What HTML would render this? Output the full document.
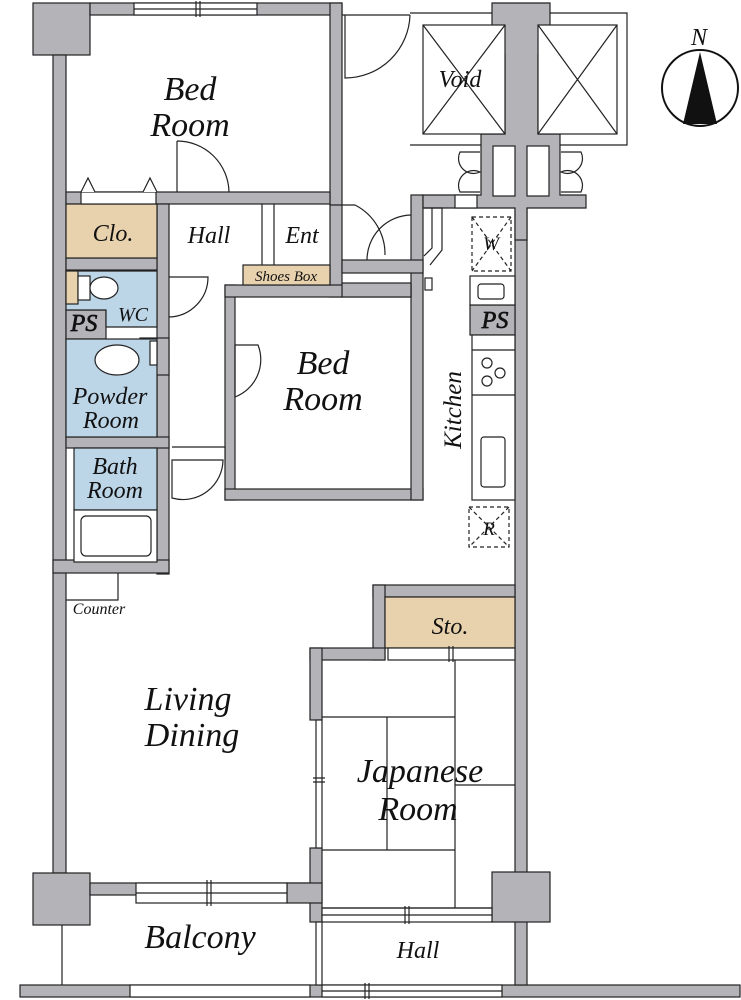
<!DOCTYPE html>
<html><head><meta charset="utf-8"><style>
html,body{margin:0;padding:0;background:#fff}
svg{display:block}
text{font-family:"Liberation Serif",serif;font-style:italic;fill:#111}
</style></head><body>
<svg width="741" height="1000" viewBox="0 0 741 1000" xmlns="http://www.w3.org/2000/svg">
<g stroke="#222" stroke-width="1.2">
<g fill="#b4b3b8">
<rect x="33" y="3" width="57" height="52"/>
<rect x="90" y="3" width="252" height="12"/>
<rect x="330" y="3" width="12" height="294"/>
<rect x="53" y="55" width="13" height="818"/>
<rect x="33" y="873" width="57" height="52"/>
<rect x="90" y="883" width="220" height="12"/>
<rect x="20" y="985" width="720" height="12"/>
<rect x="515" y="195" width="12" height="790"/>
<rect x="492" y="872" width="58" height="50"/>
<rect x="225" y="285" width="10" height="215"/>
<rect x="225" y="489" width="198" height="11"/>
<rect x="411" y="195" width="12" height="305"/>
<rect x="225" y="285" width="186" height="12"/>
<rect x="66" y="192" width="264" height="12"/>
<rect x="157" y="204" width="12" height="370"/>
<rect x="66" y="258" width="91" height="12"/>
<rect x="53" y="560" width="116" height="13"/>
<rect x="66" y="437" width="103" height="11"/>
<rect x="140" y="338" width="29" height="37"/>
<rect x="66" y="310" width="40" height="29"/>
<path d="M492 3 H550 V55 H538 V134 H560 V195 H586 V208 H527 V240 H515 V208 H423 V195 H481 V134 H505 V55 H492 Z"/>
<rect x="342" y="260" width="81" height="13"/>
<rect x="342" y="283" width="69" height="14"/>
<rect x="373" y="585" width="142" height="12"/>
<rect x="373" y="585" width="12" height="75"/>
<rect x="310" y="648" width="75" height="12"/>
<rect x="310" y="648" width="12" height="72"/>
<rect x="310" y="848" width="12" height="74"/>
<rect x="287" y="883" width="35" height="20"/>
<rect x="470" y="305" width="45" height="30"/>
</g>
<rect x="66" y="204" width="91" height="54" fill="#e8d2ae"/>
<rect x="243" y="265" width="87" height="20" fill="#e8d2ae"/>
<rect x="385" y="597" width="130" height="51" fill="#e8d2ae"/>
<path d="M66 271 H157 V327 H106 V310 H66 Z" fill="#bcd5e7"/>
<rect x="66" y="271" width="12" height="33" fill="#e8d2ae"/>
<rect x="66" y="339" width="91" height="98" fill="#bcd5e7"/>
<rect x="74" y="448" width="83" height="62" fill="#bcd5e7"/>
<rect x="74" y="510" width="83" height="52" fill="#fff"/>
<rect x="81" y="516" width="70" height="40" rx="5" fill="#fff"/>
<rect x="78" y="276" width="12" height="24" fill="#fff"/>
<ellipse cx="104" cy="288" rx="14" ry="11" fill="#fff"/>
<ellipse cx="117" cy="360" rx="22" ry="15" fill="#fff"/>
<rect x="150" y="341" width="7" height="24" fill="#fff"/>
<rect x="134" y="3" width="123" height="12" fill="#fff"/>
<line x1="134" y1="9" x2="257" y2="9"/>
<rect x="136" y="883" width="151" height="20" fill="#fff"/>
<line x1="136" y1="893" x2="287" y2="893"/>
<rect x="322" y="908" width="170" height="14" fill="#fff"/>
<line x1="322" y1="915" x2="492" y2="915"/>
<rect x="130" y="985" width="180" height="12" fill="#fff"/>
<rect x="322" y="985" width="180" height="12" fill="#fff"/>
<line x1="322" y1="991" x2="502" y2="991"/>
<rect x="316" y="720" width="6" height="128" fill="#fff"/>
<rect x="316" y="922" width="6" height="63" fill="#fff"/>
<rect x="388" y="648" width="127" height="12" fill="#fff"/>
<rect x="81" y="192" width="75" height="12" fill="#fff"/>
<path d="M81 192 L88 178 L95 192 M143 192 L150 178 L157 192" fill="#fff"/>
<path d="M177 141 V192 M177 141 A52 52 0 0 1 229 192" fill="none"/>
<path d="M342 15 H410 M345 15 V78 A65 65 0 0 0 410 15" fill="none"/>
<path d="M169 277 H208 A40 40 0 0 1 169 317" fill="none"/>
<path d="M235 345 H258 A40 40 0 0 1 235 397 V345" fill="none"/>
<path d="M172 447 H225 V460 M172 460 V498 A40 40 0 0 0 223 460 Z" fill="#fff"/>
<path d="M330 205 H355 A55 55 0 0 1 385 255 M367 260 A45 45 0 0 1 411 215" fill="none"/>
<path d="M262 204 V265 M274 204 V265" fill="none"/>
<path d="M410 13 H492 M550 13 H627 V145 H560 M481 145 H410 Z" fill="none"/>
<rect x="423" y="25" width="82" height="109" fill="#fff"/>
<path d="M423 25 L505 134 M505 25 L423 134"/>
<rect x="538" y="25" width="79" height="109" fill="#fff"/>
<path d="M538 25 L617 134 M617 25 L538 134"/>
<rect x="493" y="146" width="22" height="50" fill="#fff"/>
<rect x="527" y="146" width="22" height="50" fill="#fff"/>
<path d="M480 152 H460 A15 15 0 0 0 480 172 A15 15 0 0 0 460 192 H480 M561 152 H581 A15 15 0 0 1 561 172 A15 15 0 0 1 581 192 H561" fill="#fff"/>
<rect x="455" y="195" width="22" height="13" fill="#fff"/>
<path d="M424 208 H442 V250 L430 265 M432 208 V248 L424 256" fill="none"/>
<rect x="425" y="278" width="7" height="12" fill="#fff"/>
<rect x="470" y="276" width="45" height="29" fill="#fff"/>
<rect x="478" y="284" width="26" height="15" rx="3" fill="#fff"/>
<rect x="472" y="335" width="43" height="165" fill="#fff"/>
<line x1="472" y1="350" x2="515" y2="350"/>
<line x1="472" y1="395" x2="515" y2="395"/>
<rect x="481" y="437" width="24" height="50" rx="3" fill="#fff"/>
<g fill="#fff"><circle cx="487" cy="363" r="5"/><circle cx="500" cy="373" r="5"/><circle cx="487" cy="381" r="5"/></g>
<g fill="none" stroke-dasharray="4,3"><rect x="472" y="217" width="39" height="54"/><path d="M472 217 L511 271 M511 217 L472 271"/><rect x="469" y="507" width="40" height="40"/><path d="M469 507 L509 547 M509 507 L469 547"/></g>
<path d="M66 600 H118 V573" fill="none"/>
<g fill="none"><path d="M322 717 H455 M455 660 V908 M387 717 V850 M322 850 H455 M455 785 H515 M322 908 H492"/></g>
<line x1="62" y1="925" x2="62" y2="985"/>
<path d="M196 1 V17 M200 1 V17 M207 880 V906 M211 880 V906 M405 906 V924 M409 906 V924 M365 983 V999 M369 983 V999 M449 646 V662 M453 646 V662 M313 778 H325 M313 782 H325"/>
</g>
<circle cx="700" cy="88" r="38" fill="#fff" stroke="#111" stroke-width="2"/>
<path d="M700 52 L717 124 H683 Z" fill="#111"/>
<text x="691" y="45" font-size="24">N</text>
<g font-size="34" text-anchor="middle">
<text x="190" y="100">Bed</text><text x="190" y="136">Room</text>
<text x="323" y="374">Bed</text><text x="323" y="410">Room</text>
<text x="188" y="710">Living</text><text x="192" y="746">Dining</text>
<text x="420" y="782">Japanese</text><text x="418" y="820">Room</text>
<text x="200" y="948">Balcony</text>
</g>
<g font-size="24" text-anchor="middle">
<text x="113" y="241">Clo.</text><text x="209" y="243">Hall</text><text x="302" y="243">Ent</text>
<text x="110" y="404">Powder</text><text x="111" y="428">Room</text>
<text x="115" y="474">Bath</text><text x="115" y="498">Room</text>
<text x="450" y="634">Sto.</text><text x="418" y="958">Hall</text>
<text x="460" y="87">Void</text>
</g>
<text x="133" y="321" font-size="20" text-anchor="middle">WC</text>
<text x="84" y="331" font-size="24" text-anchor="middle" fill="#fff" stroke="#111" stroke-width="0.7">PS</text>
<text x="495" y="328" font-size="24" text-anchor="middle" fill="#fff" stroke="#111" stroke-width="0.7">PS</text>
<text x="286" y="281" font-size="15" text-anchor="middle">Shoes Box</text>
<text x="99" y="614" font-size="16" text-anchor="middle">Counter</text>
<text x="491" y="250" font-size="19" text-anchor="middle">W</text>
<text x="489" y="535" font-size="19" text-anchor="middle">R</text>
<text transform="translate(461,410) rotate(-90)" font-size="25" text-anchor="middle">Kitchen</text>
</svg>
</body></html>
